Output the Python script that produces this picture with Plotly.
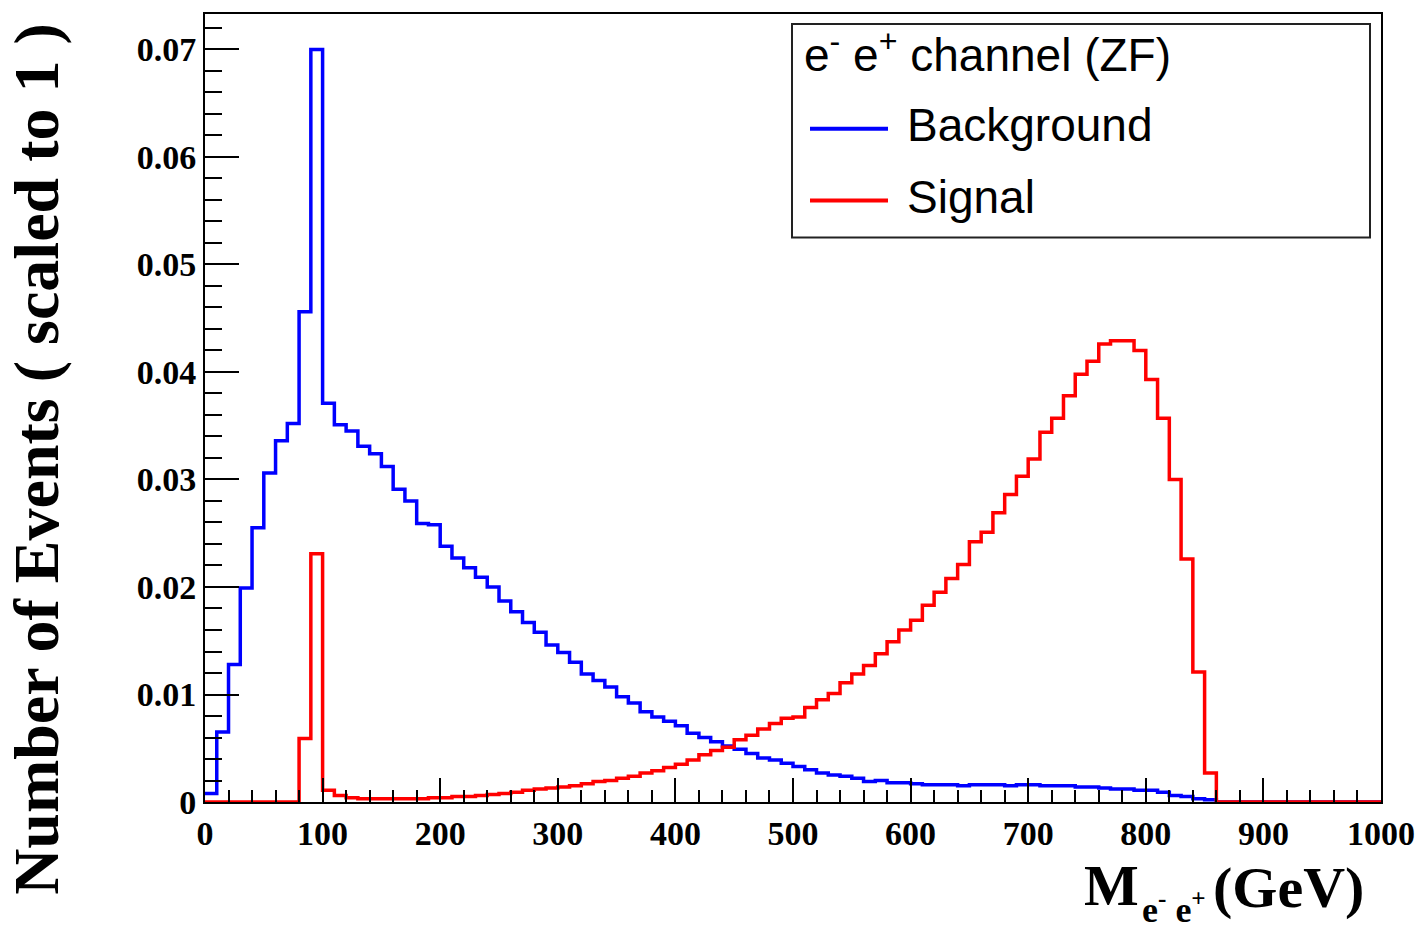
import numpy as np
import plotly.graph_objects as go

# Invariant mass histogram, 10 GeV bins from 0 to 1000 GeV (normalised to unit area)
bin_width = 10
bin_edges = list(range(0, 1001, bin_width))

background = [
    0.0008, 0.0065, 0.0128, 0.0199, 0.0255, 0.0306, 0.0336, 0.0352, 0.0456, 0.0700,
    0.0371, 0.0351, 0.0345, 0.0331, 0.0324, 0.0312, 0.0291, 0.0280, 0.0259, 0.0258,
    0.0238, 0.0227, 0.0218, 0.0209, 0.0200, 0.0187, 0.0177, 0.0167, 0.0158, 0.0146,
    0.0139, 0.0130, 0.0119, 0.0113, 0.0107, 0.0098, 0.0092, 0.0084, 0.0079, 0.0075,
    0.0071, 0.0064, 0.0060, 0.0056, 0.0052, 0.0049, 0.0045, 0.0041, 0.0039, 0.0036,
    0.0033, 0.0030, 0.0027, 0.0025, 0.0024, 0.0022, 0.0019, 0.0020, 0.0018, 0.0018,
    0.0017, 0.0016, 0.0016, 0.0016, 0.0015, 0.0016, 0.0016, 0.0016, 0.0015, 0.0016,
    0.0016, 0.0015, 0.0015, 0.0015, 0.0014, 0.0014, 0.0013, 0.0012, 0.0012, 0.0011,
    0.0011, 0.0009, 0.0006, 0.0005, 0.0003, 0.0002, 0.0000, 0.0000, 0.0000, 0.0000,
    0.0000, 0.0000, 0.0000, 0.0000, 0.0000, 0.0000, 0.0000, 0.0000, 0.0000, 0.0000,
]

signal = [
    0.0000, 0.0000, 0.0000, 0.0000, 0.0000, 0.0000, 0.0000, 0.0000, 0.0059, 0.0231,
    0.0011, 0.0006, 0.0004, 0.0003, 0.0003, 0.0003, 0.0003, 0.0003, 0.0003, 0.0004,
    0.0004, 0.0005, 0.0005, 0.0006, 0.0007, 0.0008, 0.0009, 0.0011, 0.0012, 0.0013,
    0.0014, 0.0015, 0.0017, 0.0019, 0.0020, 0.0022, 0.0024, 0.0027, 0.0029, 0.0032,
    0.0035, 0.0039, 0.0044, 0.0048, 0.0051, 0.0058, 0.0062, 0.0068, 0.0073, 0.0078,
    0.0079, 0.0088, 0.0095, 0.0101, 0.0111, 0.0119, 0.0127, 0.0138, 0.0149, 0.0160,
    0.0169, 0.0183, 0.0195, 0.0208, 0.0221, 0.0242, 0.0251, 0.0269, 0.0286, 0.0303,
    0.0319, 0.0344, 0.0357, 0.0378, 0.0398, 0.0410, 0.0426, 0.0429, 0.0429, 0.0420,
    0.0393, 0.0357, 0.0300, 0.0226, 0.0121, 0.0027, 0.0000, 0.0000, 0.0000, 0.0000,
    0.0000, 0.0000, 0.0000, 0.0000, 0.0000, 0.0000, 0.0000, 0.0000, 0.0000, 0.0000,
]

legend_title = "e<sup>-</sup> e<sup>+</sup> channel (ZF)"
series_names = ["Background", "Signal"]
series_colors = ["#0000ff", "#ff0000"]

W, H = 1427, 931
L, R, T, B = 205, 1381, 12, 802  # plot frame in pixels
Y_MAX = 0.0733


def px(xp):
    return (xp - L) / (R - L)


def py(yp):
    return (B - yp) / (B - T)


def step_trace(values, name, color):
    ys = list(values) + [values[-1]]
    return go.Scatter(
        x=bin_edges, y=ys, mode="lines", name=name,
        line=dict(color=color, width=3.5, shape="hv"),
        showlegend=False, hoverinfo="skip",
    )


fig = go.Figure()
fig.add_trace(step_trace(background, series_names[0], series_colors[0]))
fig.add_trace(step_trace(signal, series_names[1], series_colors[1]))

tick_font = dict(family="Liberation Serif", size=34, color="black", weight="bold")

fig.update_layout(
    width=W, height=H,
    margin=dict(l=L, r=W - R, t=T, b=H - B, pad=0),
    paper_bgcolor="white", plot_bgcolor="white",
    xaxis=dict(
        range=[0, 1000], dtick=100, tick0=0,
        showgrid=False, zeroline=False,
        showline=True, mirror=True, linecolor="black", linewidth=2,
        ticks="inside", ticklen=24, tickwidth=2, tickcolor="black",
        minor=dict(ticks="inside", dtick=20, ticklen=12, tickwidth=2, tickcolor="black", showgrid=False),
        tickfont=tick_font,
    ),
    yaxis=dict(
        range=[0, Y_MAX], dtick=0.01, tick0=0,
        showgrid=False, zeroline=False,
        showline=True, mirror=True, linecolor="black", linewidth=2,
        ticks="inside", ticklen=34, tickwidth=2, tickcolor="black",
        minor=dict(ticks="inside", dtick=0.002, ticklen=17, tickwidth=2, tickcolor="black", showgrid=False),
        tickfont=tick_font,
    ),
)

title_font = dict(family="Liberation Serif", color="black", weight="bold")

# y-axis title
fig.add_annotation(
    xref="paper", yref="paper", x=px(37), y=py(458),
    text="Number of Events ( scaled to 1 )", textangle=-90, showarrow=False,
    xanchor="center", yanchor="middle",
    font=dict(size=64, **title_font),
)

# x-axis title: M with e- e+ subscript, then unit
fig.add_annotation(
    xref="paper", yref="paper", x=px(1141), y=py(886),
    text="M", showarrow=False, xanchor="right", yanchor="middle",
    font=dict(size=58, **title_font),
)
fig.add_annotation(
    xref="paper", yref="paper", x=px(1140), y=py(908),
    text="e<sup>-</sup> e<sup>+</sup>", showarrow=False, xanchor="left", yanchor="middle",
    font=dict(size=36, **title_font),
)
fig.add_annotation(
    xref="paper", yref="paper", x=px(1366), y=py(888),
    text="(GeV)", showarrow=False, xanchor="right", yanchor="middle",
    font=dict(size=58, **title_font),
)

# legend box
fig.add_shape(
    type="rect", xref="paper", yref="paper",
    x0=px(792), x1=px(1370), y0=py(236), y1=py(22),
    line=dict(color="#222222", width=2), fillcolor="white", layer="above",
)
legend_font = dict(family="Liberation Sans", size=46, color="black")
fig.add_annotation(
    xref="paper", yref="paper", x=px(802), y=py(50),
    text=legend_title, showarrow=False, xanchor="left", yanchor="middle",
    font=legend_font,
)
for name, color, yc in zip(series_names, series_colors, [123, 195]):
    fig.add_shape(
        type="line", xref="paper", yref="paper",
        x0=px(810), x1=px(888), y0=py(yc + 4), y1=py(yc + 4),
        line=dict(color=color, width=4), layer="above",
    )
    fig.add_annotation(
        xref="paper", yref="paper", x=px(905), y=py(yc),
        text=name, showarrow=False, xanchor="left", yanchor="middle",
        font=legend_font,
    )

fig.write_html("out.html")
